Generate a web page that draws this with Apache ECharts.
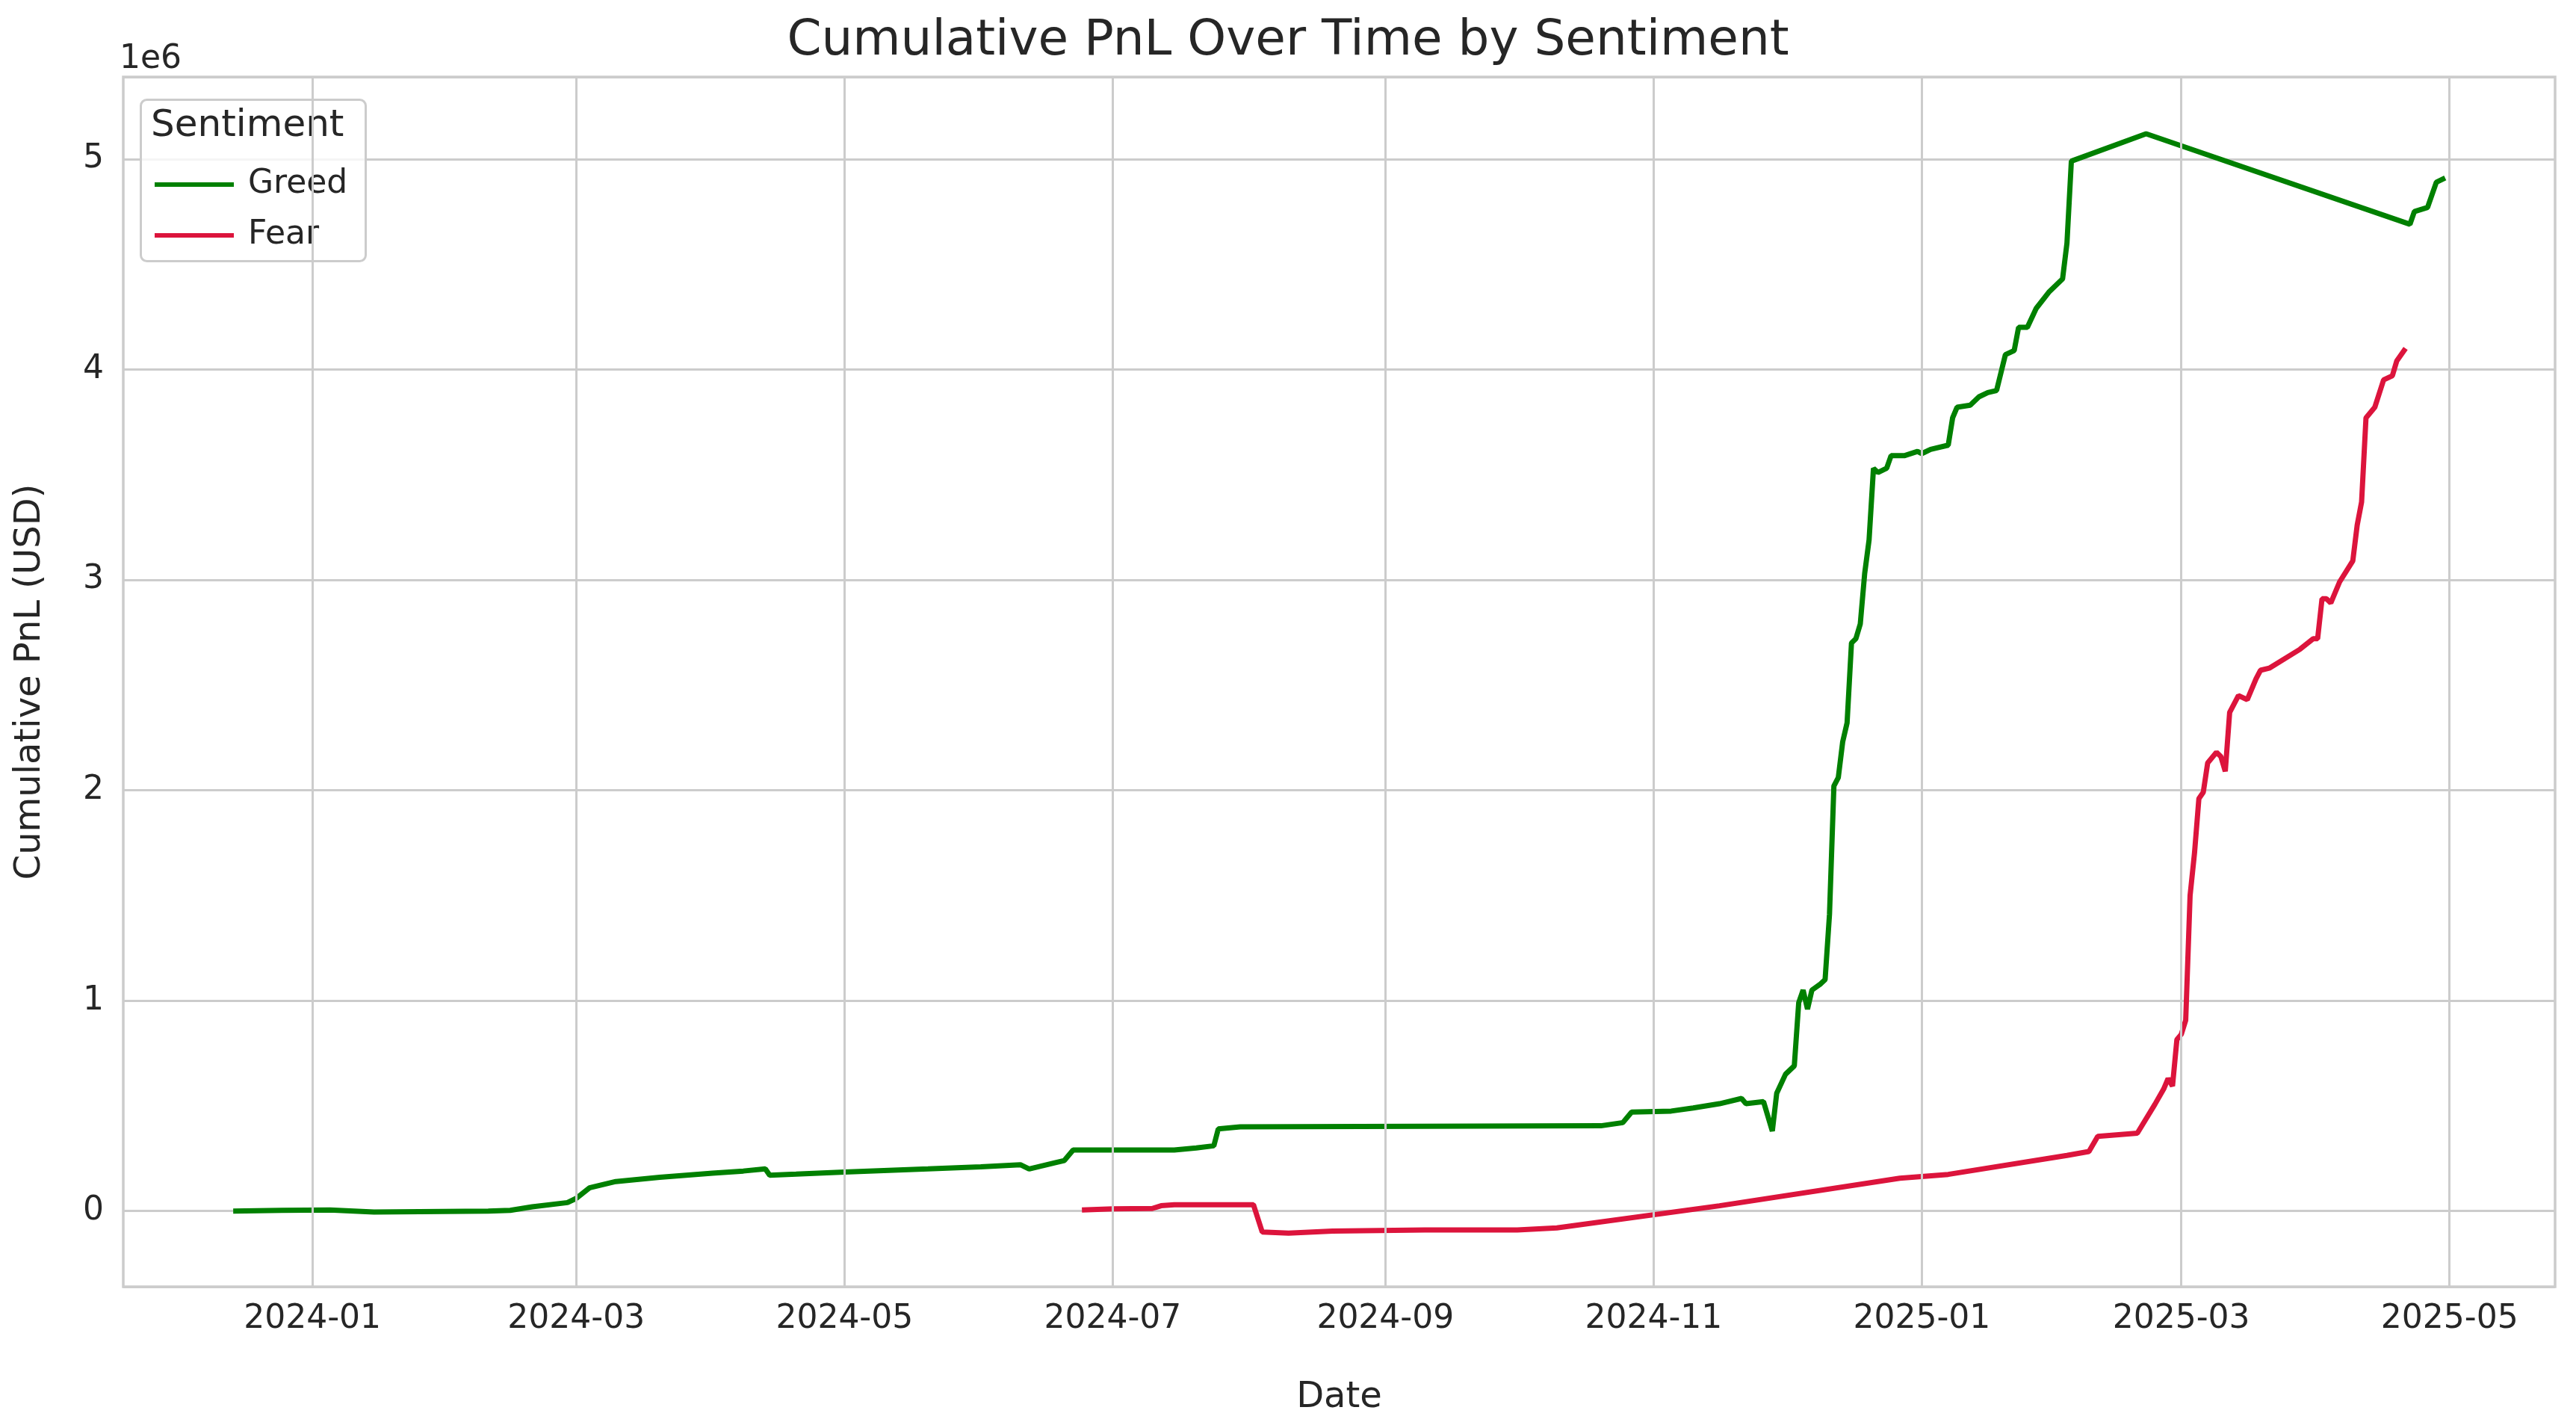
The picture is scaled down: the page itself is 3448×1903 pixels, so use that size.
<!DOCTYPE html>
<html><head><meta charset="utf-8">
<script src="https://cdn.jsdelivr.net/npm/echarts@6/dist/echarts.min.js"></script>
<style>html,body{margin:0;padding:0;background:#fff}#c{width:3448px;height:1903px}</style>
</head><body><div id="c"></div>
<script>
// values in units of 1e6 USD
const greedDates = ['2023-12-14','2023-12-25','2024-01-05','2024-01-15','2024-02-10','2024-02-15','2024-02-20','2024-02-28','2024-03-01','2024-03-04','2024-03-10','2024-03-20','2024-04-01','2024-04-08','2024-04-13','2024-04-14','2024-04-20','2024-05-01','2024-05-20','2024-06-01','2024-06-10','2024-06-12','2024-06-18','2024-06-20','2024-06-22','2024-07-15','2024-07-20','2024-07-24','2024-07-25','2024-07-30','2024-10-20','2024-10-25','2024-10-27','2024-11-05','2024-11-10','2024-11-16','2024-11-21','2024-11-22','2024-11-26','2024-11-28','2024-11-29','2024-12-01','2024-12-03','2024-12-04','2024-12-05','2024-12-06','2024-12-07','2024-12-09','2024-12-10','2024-12-11','2024-12-12','2024-12-13','2024-12-14','2024-12-15','2024-12-16','2024-12-17','2024-12-18','2024-12-19','2024-12-20','2024-12-21','2024-12-22','2024-12-24','2024-12-25','2024-12-28','2024-12-31','2025-01-01','2025-01-03','2025-01-07','2025-01-08','2025-01-09','2025-01-12','2025-01-14','2025-01-16','2025-01-18','2025-01-20','2025-01-22','2025-01-23','2025-01-25','2025-01-27','2025-01-30','2025-02-02','2025-02-03','2025-02-04','2025-02-21','2025-04-22','2025-04-23','2025-04-26','2025-04-28','2025-04-30'];
const greedValues = [0,0.003,0.005,-0.005,0,0.003,0.02,0.04,0.06,0.11,0.14,0.16,0.18,0.19,0.20,0.17,0.175,0.185,0.20,0.21,0.22,0.20,0.23,0.24,0.29,0.29,0.30,0.31,0.39,0.40,0.405,0.42,0.47,0.475,0.49,0.51,0.535,0.51,0.52,0.38,0.56,0.65,0.69,0.99,1.05,0.96,1.05,1.08,1.10,1.41,2.02,2.06,2.23,2.32,2.70,2.72,2.79,3.03,3.19,3.53,3.51,3.53,3.59,3.59,3.61,3.60,3.62,3.64,3.77,3.82,3.83,3.87,3.89,3.90,4.07,4.09,4.20,4.20,4.29,4.37,4.43,4.60,4.99,5.12,4.69,4.75,4.77,4.89,4.91];
const fearDates = ['2024-06-24','2024-07-01','2024-07-10','2024-07-12','2024-07-15','2024-08-02','2024-08-04','2024-08-10','2024-08-20','2024-09-10','2024-10-01','2024-10-10','2024-11-16','2024-12-27','2025-01-07','2025-02-03','2025-02-08','2025-02-10','2025-02-19','2025-02-23','2025-02-25','2025-02-26','2025-02-27','2025-02-28','2025-03-01','2025-03-02','2025-03-03','2025-03-04','2025-03-05','2025-03-06','2025-03-07','2025-03-09','2025-03-10','2025-03-11','2025-03-12','2025-03-14','2025-03-16','2025-03-18','2025-03-19','2025-03-21','2025-03-28','2025-03-31','2025-04-01','2025-04-02','2025-04-03','2025-04-04','2025-04-06','2025-04-09','2025-04-10','2025-04-11','2025-04-12','2025-04-14','2025-04-16','2025-04-18','2025-04-19','2025-04-21'];
const fearValues = [0.005,0.01,0.012,0.025,0.03,0.03,-0.10,-0.105,-0.095,-0.09,-0.09,-0.08,0.025,0.156,0.174,0.264,0.283,0.355,0.37,0.507,0.58,0.63,0.594,0.815,0.84,0.906,1.50,1.70,1.96,1.99,2.13,2.18,2.16,2.09,2.37,2.45,2.43,2.53,2.57,2.58,2.67,2.72,2.72,2.91,2.91,2.89,2.99,3.09,3.26,3.37,3.77,3.82,3.95,3.97,4.04,4.10];
const xTickDates = ['2024-01-01','2024-03-01','2024-05-01','2024-07-01','2024-09-01','2024-11-01','2025-01-01','2025-03-01','2025-05-01'];
const xTickLabels = ['2024-01','2024-03','2024-05','2024-07','2024-09','2024-11','2025-01','2025-03','2025-05'];

const txt = '#262626', grid = '#cccccc', FONT = 'DejaVu Sans';
const zip = (d, v) => d.map((x, i) => [x, v[i]]);
const chart = echarts.init(document.getElementById('c'));
chart.setOption({
  backgroundColor: '#fff',
  animation: false,
  textStyle: {fontFamily: FONT},
  title: {text: 'Cumulative PnL Over Time by Sentiment', left: 'center', top: 18,
    textStyle: {fontFamily: FONT, fontSize: 66, fontWeight: 'normal', color: txt}},
  grid: {left: 165, right: 28, top: 103, bottom: 181, show: true, borderColor: grid, borderWidth: 3.5},
  xAxis: {type: 'time', min: '2023-11-19', max: '2025-05-25',
    axisLine: {show: false}, axisTick: {show: false}, axisLabel: {show: false}, splitLine: {show: false},
    name: 'Date', nameLocation: 'middle', nameGap: 125, nameTextStyle: {fontSize: 48, color: txt}},
  yAxis: {type: 'value', min: -0.36, max: 5.39, splitNumber: 6,
    axisLine: {show: false}, axisTick: {show: false},
    axisLabel: {fontSize: 44, color: txt, margin: 26, showMinLabel: false, showMaxLabel: false,
      formatter: v => (Math.abs(v - Math.round(v)) < 1e-9 ? String(Math.round(v)) : '')},
    splitLine: {lineStyle: {color: grid, width: 3}},
    name: 'Cumulative PnL (USD)', nameLocation: 'middle', nameGap: 100, nameTextStyle: {fontSize: 48, color: txt}},
  legend: {show: true, orient: 'vertical', left: 202, top: 220, itemGap: 24, itemWidth: 106, itemHeight: 6,
    icon: 'rect', textStyle: {fontSize: 44, color: txt, padding: [0, 0, 0, 14]},
    data: ['Greed', 'Fear']},
  graphic: [
    {type: 'rect', left: 187, top: 132, shape: {width: 301, height: 216, r: 8},
      style: {fill: 'rgba(255,255,255,0.8)', stroke: grid, lineWidth: 3}, z: 1},
    {type: 'text', left: 202, top: 144, style: {text: 'Sentiment', fontSize: 50, fill: txt, fontFamily: FONT}, z: 2},
    {type: 'text', left: 160, top: 58, style: {text: '1e6', fontSize: 44, fill: txt, fontFamily: FONT}}
  ],
  series: [
    {name: 'gridX', type: 'line', data: [], silent: true, z: 0,
      markLine: {silent: true, symbol: 'none', animation: false,
        lineStyle: {color: grid, width: 3, type: 'solid'},
        label: {position: 'start', distance: 22, fontSize: 44, color: txt, fontFamily: FONT,
          formatter: p => xTickLabels[xTickDates.indexOf(p.data.name)]},
        data: xTickDates.map(d => ({xAxis: d, name: d}))}},
    {name: 'Greed', type: 'line', data: zip(greedDates, greedValues), showSymbol: false,
      lineStyle: {color: '#008000', width: 7}, itemStyle: {color: '#008000'}, z: 3},
    {name: 'Fear', type: 'line', data: zip(fearDates, fearValues), showSymbol: false,
      lineStyle: {color: '#dc143c', width: 7}, itemStyle: {color: '#dc143c'}, z: 3}
  ]
});
</script></body></html>
